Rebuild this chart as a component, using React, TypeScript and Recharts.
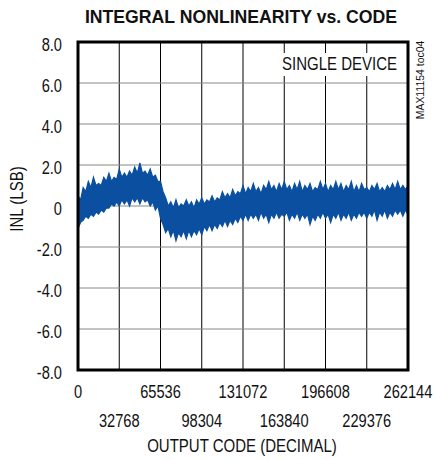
import React from "react"
import { ComposedChart, Area, XAxis, YAxis, CartesianGrid, ReferenceArea } from "recharts"

// upper edge of the INL noise band (LSB), one value every 2048 codes
const inlHigh = [
  0.5, 0.3, 0.9, 0.7, 1.2, 0.9, 1.4, 1.0, 1.1, 1.0, 1.4, 1.2, 1.6, 1.2, 1.4, 1.3,
  1.8, 1.4, 1.6, 1.4, 1.7, 1.5, 1.9, 1.6, 2.1, 1.6, 1.7, 1.5, 1.8, 1.4, 1.5, 1.2,
  1.2, 0.7, 0.4, 0.0, 0.2, -0.1, 0.3, -0.1, 0.1, 0.0, 0.3, 0.0, 0.2, -0.1, 0.3, 0.1,
  0.4, 0.1, 0.3, 0.2, 0.5, 0.2, 0.4, 0.3, 0.7, 0.4, 0.6, 0.4, 0.8, 0.5, 0.7, 0.6,
  1.0, 0.6, 0.9, 0.7, 1.1, 0.7, 0.9, 0.6, 1.0, 0.8, 1.2, 0.8, 1.0, 0.7, 1.1, 0.8,
  1.2, 0.8, 1.0, 0.7, 1.1, 0.8, 1.2, 0.7, 1.0, 0.8, 1.1, 0.7, 0.9, 0.8, 1.2, 0.8,
  1.1, 0.7, 1.0, 0.8, 1.2, 0.8, 1.1, 0.7, 1.0, 0.8, 1.2, 0.7, 1.0, 0.7, 1.1, 0.8,
  0.9, 0.7, 1.0, 0.8, 1.1, 0.7, 0.9, 0.7, 1.0, 0.8, 1.1, 0.8, 1.2, 0.8, 1.0, 0.8,
  1.0,
]

// lower edge of the INL noise band (LSB)
const inlLow = [
  -1.1, -0.8, -0.7, -0.5, -0.6, -0.4, -0.5, -0.3, -0.4, -0.2, -0.3, -0.1, -0.1, 0.1, 0.0, 0.2,
  0.0, 0.3, 0.1, 0.3, 0.0, 0.4, 0.2, 0.4, 0.1, 0.4, 0.2, 0.3, 0.0, 0.2, -0.2, 0.0,
  -0.6, -0.9, -1.3, -1.1, -1.5, -1.2, -1.7, -1.3, -1.5, -1.2, -1.6, -1.2, -1.5, -1.2, -1.4, -1.1,
  -1.4, -1.0, -1.2, -0.9, -1.2, -0.9, -1.1, -0.8, -1.0, -0.7, -1.0, -0.7, -0.9, -0.6, -0.8, -0.5,
  -0.7, -0.4, -0.7, -0.4, -0.6, -0.4, -0.7, -0.3, -0.6, -0.4, -0.8, -0.4, -0.6, -0.3, -0.6, -0.4,
  -0.5, -0.3, -0.7, -0.4, -0.6, -0.3, -0.7, -0.4, -0.6, -0.4, -0.9, -0.5, -0.7, -0.4, -0.6, -0.3,
  -0.6, -0.4, -0.8, -0.4, -0.6, -0.3, -0.7, -0.4, -0.6, -0.3, -0.7, -0.4, -0.6, -0.3, -0.5, -0.3,
  -0.6, -0.3, -0.5, -0.2, -0.7, -0.3, -0.5, -0.2, -0.6, -0.3, -0.5, -0.2, -0.4, -0.2, -0.5, -0.2,
  -0.4,
]

const codes = inlHigh.map((_, i) => i * 2048)

const xTicks = [0, 32768, 65536, 98304, 131072, 163840, 196608, 229376, 262144]
const yTicks = [-8, -6, -4, -2, 0, 2, 4, 6, 8]

const FONT = "'Liberation Sans', Arial, sans-serif"
const BLUE = "#0a4fa0"

const data = codes.map((code, i) => ({ code, band: [inlLow[i], inlHigh[i]] }))

// Arial Narrow isn't installed, so squeeze Liberation Sans horizontally
const NarrowText = ({ x, y, anchor = "middle", size = 19, sx = 0.79, bold = false, rotate = 0, children }: any) => (
  <g transform={`translate(${x},${y}) rotate(${rotate}) scale(${sx},1)`}>
    <text x={0} y={0} textAnchor={anchor} fontSize={size} fontWeight={bold ? "bold" : "normal"} fill="#111" fontFamily={FONT}>
      {children}
    </text>
  </g>
)

const XTick = ({ x, y, payload }: any) => {
  const odd = Math.round(payload.value / 32768) % 2 === 1
  return (
    <NarrowText x={x} y={y + (odd ? 57 : 28)} sx={0.77}>
      {payload.value}
    </NarrowText>
  )
}

const YTick = ({ x, y, payload }: any) => (
  <NarrowText x={x - 16} y={y + 9} anchor="end" sx={0.77}>
    {payload.value === 0 ? "0" : payload.value.toFixed(1)}
  </NarrowText>
)

export default function App() {
  return (
    <div style={{ position: "relative", width: 435, height: 460, background: "#fff" }}>
      <style>{"body { margin: 0; }"}</style>
      <ComposedChart width={435} height={460} data={data} margin={{ top: 42, right: 27, bottom: 0, left: 0 }}>
        <CartesianGrid horizontal={false} stroke="#000" strokeWidth={1} />
        <CartesianGrid vertical={false} stroke="#888" strokeWidth={1} />
        <XAxis
          dataKey="code"
          type="number"
          domain={[0, 262144]}
          ticks={xTicks}
          height={90}
          axisLine={false}
          tickLine={false}
          tickSize={0}
          tickMargin={0}
          tick={<XTick />}
          interval={0}
        />
        <YAxis
          type="number"
          domain={[-8, 8]}
          ticks={yTicks}
          width={78}
          axisLine={false}
          tickLine={false}
          tickSize={0}
          tickMargin={0}
          tick={<YTick />}
          interval={0}
        />
        <Area
          dataKey="band"
          type="linear"
          stroke={BLUE}
          strokeWidth={1.2}
          fill={BLUE}
          fillOpacity={1}
          isAnimationActive={false}
        />
        <ReferenceArea x1={0} x2={262144} y1={-8} y2={8} fill="none" stroke="#000" strokeWidth={3} />
      </ComposedChart>
      <svg width={435} height={460} style={{ position: "absolute", left: 0, top: 0, pointerEvents: "none" }}>
        <NarrowText x={241} y={23} bold sx={0.93}>
          INTEGRAL NONLINEARITY vs. CODE
        </NarrowText>
        <rect x={280} y={53} width={121} height={23} fill="#fff" />
        <NarrowText x={397} y={70} anchor="end">
          SINGLE DEVICE
        </NarrowText>
        <NarrowText x={23} y={199} rotate={-90}>
          INL (LSB)
        </NarrowText>
        <NarrowText x={424} y={80} size={11} sx={0.95} rotate={-90}>
          MAX11154 toc04
        </NarrowText>
        <NarrowText x={242} y={452}>
          OUTPUT CODE (DECIMAL)
        </NarrowText>
      </svg>
    </div>
  )
}
